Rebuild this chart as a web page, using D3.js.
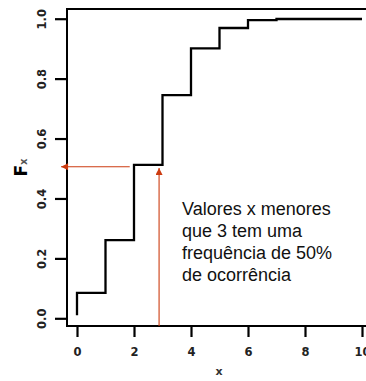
<!DOCTYPE html>
<html><head><meta charset="utf-8">
<script src="https://cdn.jsdelivr.net/npm/d3@7"></script>
<style>html,body{margin:0;padding:0;background:#fff;}svg{display:block;}</style>
</head><body>
<svg id="c" width="366" height="381"></svg>
<script>
// data
const xVals = [0, 0, 1, 2, 3, 4, 5, 6, 7, 8, 9, 10];
const fxVals = [0.01, 0.085, 0.261, 0.512, 0.745, 0.901, 0.969, 0.995, 0.999, 0.999, 0.999, 0.999];
const xTicks = [0, 2, 4, 6, 8, 10];
const yTicks = [0.0, 0.2, 0.4, 0.6, 0.8, 1.0];
const yTickLabels = ["0.0", "0.2", "0.4", "0.6", "0.8", "1.0"];
const arrowV = {x: 2.88, from: -0.026, to: 0.502};
const arrowH = {y: 0.506, from: 1.85, to: -0.56};
const note = ["Valores x menores", "que 3 tem uma", "frequência de 50%", "de ocorrência"];

const svg = d3.select("#c");
const box = {left: 67, right: 371, top: 9, bottom: 326};
const x = d3.scaleLinear().domain([0, 10]).range([77, 362]);
const y = d3.scaleLinear().domain([0, 1]).range([318.3, 18.7]);
const red = "#cc3b10";

// step line
const line = d3.line().x((d, i) => x(xVals[i])).y((d, i) => y(fxVals[i])).curve(d3.curveStepAfter);
svg.append("path").datum(fxVals).attr("d", line)
  .attr("fill", "none").attr("stroke", "#000").attr("stroke-width", 2.3);

// box
svg.append("rect").attr("x", box.left).attr("y", box.top)
  .attr("width", box.right - box.left).attr("height", box.bottom - box.top)
  .attr("fill", "none").attr("stroke", "#000").attr("stroke-width", 2);

// x axis
const xa = svg.append("g").attr("transform", `translate(0,${box.bottom})`)
  .call(d3.axisBottom(x).tickValues(xTicks).tickSize(11).tickPadding(11).tickFormat(d3.format("d")));
xa.select(".domain").remove();
xa.selectAll("line").attr("stroke-width", 2.2);
xa.selectAll("text").attr("font-family", "DejaVu Sans").attr("font-weight", "bold").attr("font-size", 11.5).attr("fill", "#222");

// y axis
const ya = svg.append("g").attr("transform", `translate(${box.left},0)`)
  .call(d3.axisLeft(y).tickValues(yTicks).tickSize(12).tickFormat((d, i) => yTickLabels[i]));
ya.select(".domain").remove();
ya.selectAll("line").attr("stroke-width", 2.2);
ya.selectAll("text").attr("font-family", "DejaVu Sans").attr("font-weight", "bold").attr("font-size", 11.5).attr("fill", "#222")
  .attr("x", null).attr("dy", null).attr("text-anchor", "middle")
  .attr("transform", "translate(-21,0) rotate(-90)");

// axis titles
svg.append("text").attr("x", (box.left + box.right) / 2).attr("y", 375)
  .attr("text-anchor", "middle").attr("font-family", "DejaVu Sans").attr("font-weight", "bold")
  .attr("font-size", 11).attr("fill", "#333").text("x");
const fl = svg.append("text").attr("transform", `translate(27,${(box.top + box.bottom) / 2}) rotate(-90)`)
  .attr("text-anchor", "middle").attr("font-family", "DejaVu Sans").attr("font-weight", "bold")
  .attr("font-size", 17).attr("fill", "#000");
fl.append("tspan").text("F");
fl.append("tspan").attr("font-size", 10).attr("fill", "#555").text("x");

// arrows
const defs = svg.append("defs");
defs.append("marker").attr("id", "ah").attr("viewBox", "0 0 10 10").attr("refX", 10).attr("refY", 5)
  .attr("markerWidth", 8).attr("markerHeight", 7).attr("markerUnits", "userSpaceOnUse").attr("orient", "auto")
  .append("path").attr("d", "M0,0 L10,5 L0,10 Z").attr("fill", red);
svg.append("line").attr("x1", x(arrowV.x)).attr("x2", x(arrowV.x))
  .attr("y1", y(arrowV.from)).attr("y2", y(arrowV.to))
  .attr("stroke", red).attr("stroke-width", 1.1).attr("marker-end", "url(#ah)");
svg.append("line").attr("x1", x(arrowH.from)).attr("x2", x(arrowH.to))
  .attr("y1", y(arrowH.y)).attr("y2", y(arrowH.y))
  .attr("stroke", red).attr("stroke-width", 1.1).attr("marker-end", "url(#ah)");

// annotation
const t = svg.append("text").attr("font-family", "Liberation Sans, Arial, sans-serif")
  .attr("font-size", 18).attr("fill", "#111");
note.forEach((s, i) => t.append("tspan").attr("x", 182).attr("y", 214.5 + i * 22.3).text(s));
</script>
</body></html>
